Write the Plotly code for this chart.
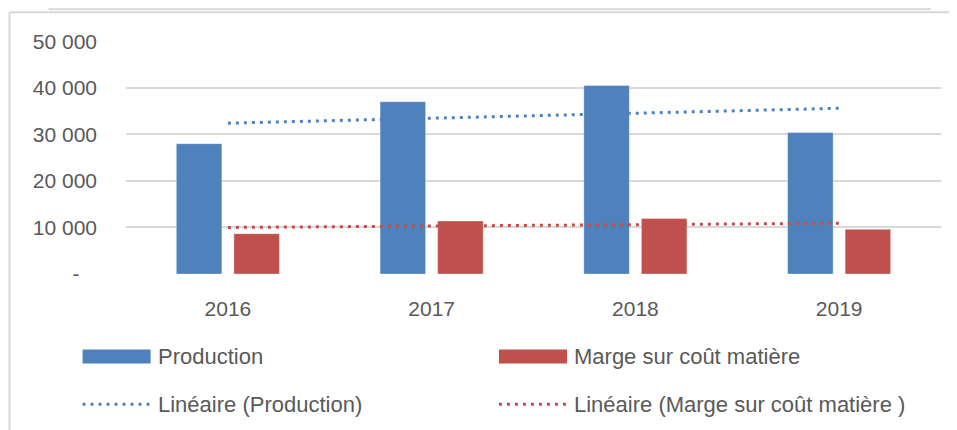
import plotly.graph_objects as go

# ---- data ----
years = ["2016", "2017", "2018", "2019"]
production = [28000, 37000, 40500, 30400]
marge = [8650, 11400, 11900, 9600]
trend_years = ["2016", "2019"]
trend_production = [32400, 35600]
trend_marge = [10000, 10900]
y_tickvals = [0, 10000, 20000, 30000, 40000, 50000]
y_ticktext = ["-\u00a0\u00a0\u00a0", "10 000", "20 000", "30 000", "40 000", "50 000"]

BLUE = "#4F81BD"
RED = "#C0504D"
TXT = "#595959"
GRID = "#D9D9D9"
FONT = "Liberation Sans"

OFF = 8  # page body margin
W, H = 957, 430
L, R, T, B = 126.4, 940.6, 40.9, 274.4  # plot area in screen pixels


def px(x):
    return (x - L) / (R - L)


def py(y):
    return (B - y) / (B - T)


fig = go.Figure()
fig.add_trace(go.Bar(x=years, y=production, name="Production",
                     marker=dict(color=BLUE, line=dict(color="rgba(255,255,255,0.35)", width=1))))
fig.add_trace(go.Bar(x=years, y=marge, name="Marge sur coût matière",
                     marker=dict(color=RED, line=dict(color="rgba(255,255,255,0.35)", width=1))))
fig.add_trace(go.Scatter(x=trend_years, y=trend_production, mode="lines",
                         name="Linéaire (Production)",
                         line=dict(color=BLUE, width=3, dash="3px,5px")))
fig.add_trace(go.Scatter(x=trend_years, y=trend_marge, mode="lines",
                         name="Linéaire (Marge sur coût matière )",
                         line=dict(color=RED, width=3, dash="3px,5px")))

shapes = []
# chart frame: left and top borders, plus the box above
shapes.append(dict(type="line", xref="paper", yref="paper", x0=px(10), x1=px(10), y0=py(12), y1=py(432),
                   line=dict(color=GRID, width=2)))
shapes.append(dict(type="line", xref="paper", yref="paper", x0=px(10), x1=px(960), y0=py(12), y1=py(12),
                   line=dict(color=GRID, width=2)))
shapes.append(dict(type="rect", xref="paper", yref="paper", x0=px(50), x1=px(929), y0=py(-5), y1=py(9),
                   line=dict(color=GRID, width=2), fillcolor="rgba(0,0,0,0)"))

annotations = []
legend_items = [
    ("bar", BLUE, "Production", 83, 357),
    ("bar", RED, "Marge sur coût matière", 499, 357),
    ("line", BLUE, "Linéaire (Production)", 83, 405),
    ("line", RED, "Linéaire (Marge sur coût matière )", 499, 405),
]
for kind, col, label, x0, yc in legend_items:
    if kind == "bar":
        shapes.append(dict(type="rect", xref="paper", yref="paper", x0=px(x0), x1=px(x0 + 68),
                           y0=py(yc - 7), y1=py(yc + 7), fillcolor=col, line=dict(width=0)))
    else:
        shapes.append(dict(type="line", xref="paper", yref="paper", x0=px(x0), x1=px(x0 + 68),
                           y0=py(yc), y1=py(yc), line=dict(color=col, width=3, dash="3px,5px")))
    annotations.append(dict(xref="paper", yref="paper", x=px(x0 + 73), y=py(yc), text=label,
                            showarrow=False, xanchor="left", yanchor="middle",
                            font=dict(family=FONT, size=22, color=TXT)))

fig.update_layout(
    width=W - OFF, height=H - OFF,
    margin=dict(l=L - OFF, r=W - R, t=T - OFF, b=H - B, pad=0),
    paper_bgcolor="white", plot_bgcolor="white",
    barmode="group", bargap=0.435, bargroupgap=0.209,
    showlegend=False,
    font=dict(family=FONT, size=21, color=TXT),
    shapes=shapes, annotations=annotations,
    xaxis=dict(type="category", showgrid=False, zeroline=False, showline=False,
               ticks="", ticklabelstandoff=20, tickfont=dict(family=FONT, size=21, color=TXT)),
    yaxis=dict(range=[0, 50050], tickvals=y_tickvals, ticktext=y_ticktext,
               showgrid=True, gridcolor=GRID, gridwidth=2, zeroline=False, showline=False,
               ticks="", ticklabelstandoff=28, tickfont=dict(family=FONT, size=21, color=TXT)),
)

fig.write_html("out.html")
